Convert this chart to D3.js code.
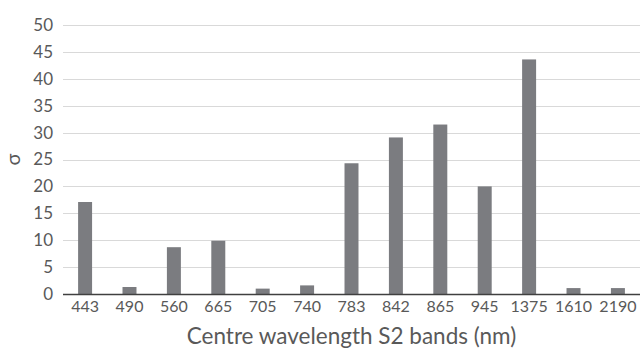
<!DOCTYPE html>
<html lang="en">
<head>
    <meta charset="UTF-8">
    <title>Centre wavelength S2 bands</title>
    <script src="https://d3js.org/d3.v7.min.js"></script>
    <style>
        body {
            margin: 0;
            background: #fff;
            font-family: Lato, "Open Sans", sans-serif;
        }
        .tick text {
            fill: #595959;
        }
    </style>
</head>
<body>
    <svg width="641" height="350"></svg>
    <script>
        const bands = ["443", "490", "560", "665", "705", "740", "783", "842", "865", "945", "1375", "1610", "2190"];
        const sigma = [17.1, 1.3, 8.7, 9.9, 1.0, 1.6, 24.3, 29.1, 31.5, 20.0, 43.6, 1.1, 1.1];
        const yTicks = [0, 5, 10, 15, 20, 25, 30, 35, 40, 45, 50];

        const svg = d3.select("svg");
        const plotLeft = 63, plotRight = 640, plotTop = 25, plotBottom = 294;

        const x = d3.scaleBand()
            .domain(bands)
            .range([plotLeft, plotRight])
            .paddingInner(0.685)
            .paddingOuter(0.34);

        const y = d3.scaleLinear()
            .domain([0, 50])
            .range([plotBottom, plotTop]);

        // gridlines
        svg.append("g")
            .selectAll("line")
            .data(yTicks.filter(d => d > 0))
            .join("line")
            .attr("x1", plotLeft)
            .attr("x2", plotRight)
            .attr("y1", d => Math.round(y(d)) + 0.5)
            .attr("y2", d => Math.round(y(d)) + 0.5)
            .attr("stroke", "#d9d9d9")
            .attr("stroke-width", 1);

        // y axis labels
        const yAxis = svg.append("g")
            .attr("transform", `translate(${plotLeft},0)`)
            .call(d3.axisLeft(y).tickValues(yTicks).tickSize(0).tickPadding(10));
        yAxis.select(".domain").remove();
        yAxis.selectAll("text").style("font-size", "17px").style("font-family", "Lato");

        // bars
        svg.append("g")
            .selectAll("rect")
            .data(sigma)
            .join("rect")
            .attr("x", (d, i) => x(bands[i]))
            .attr("width", x.bandwidth())
            .attr("y", d => y(d))
            .attr("height", d => plotBottom - y(d))
            .attr("fill", "#7b7c80");

        // x axis
        const xAxis = svg.append("g")
            .attr("transform", `translate(0,${plotBottom})`)
            .call(d3.axisBottom(x).tickSize(0).tickPadding(7));
        xAxis.select(".domain").remove();
        xAxis.selectAll("text").style("font-size", "16px").style("font-family", "Lato");

        svg.append("line")
            .attr("x1", plotLeft)
            .attr("x2", plotRight)
            .attr("y1", plotBottom + 0.5)
            .attr("y2", plotBottom + 0.5)
            .attr("stroke", "#404040")
            .attr("stroke-width", 1.3);

        // axis titles
        svg.append("text")
            .attr("x", (plotLeft + plotRight) / 2)
            .attr("y", 344)
            .attr("text-anchor", "middle")
            .attr("fill", "#595959")
            .style("font-size", "22.5px")
            .text("Centre wavelength S2 bands (nm)");

        svg.append("text")
            .attr("transform", `translate(20,${(plotTop + plotBottom) / 2}) rotate(-90)`)
            .attr("text-anchor", "middle")
            .attr("fill", "#595959")
            .style("font-size", "20px")
            .text("σ");
    </script>
</body>
</html>
